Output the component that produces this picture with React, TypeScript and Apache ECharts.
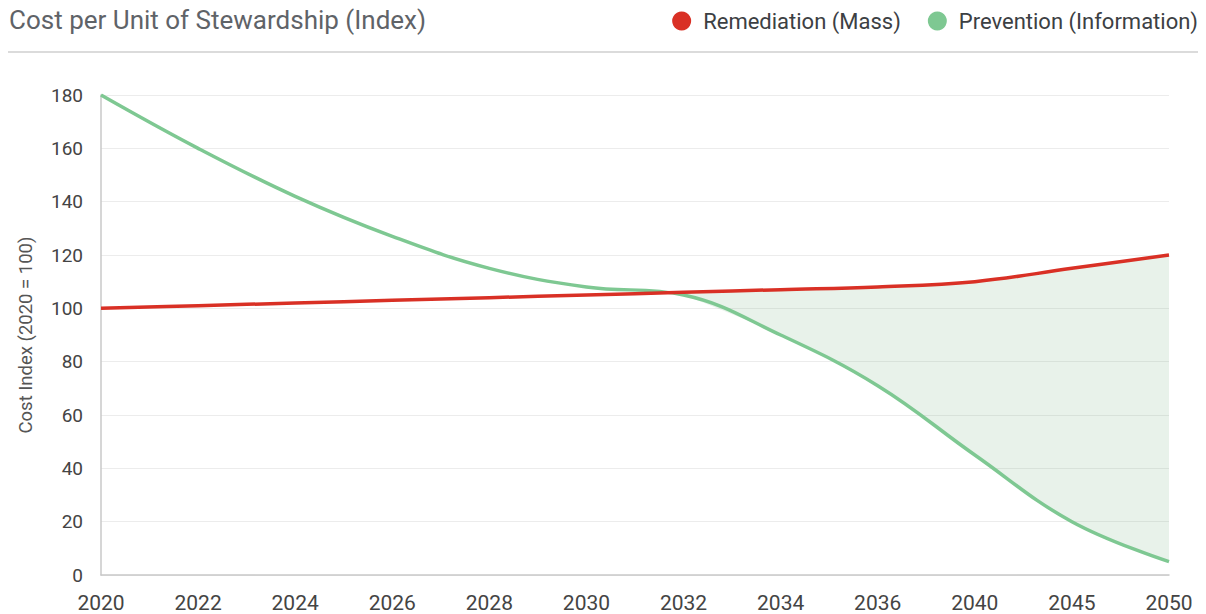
import React, { useEffect, useRef } from "react";
import * as echarts from "echarts";

const years = ["2020", "2022", "2024", "2026", "2028", "2030", "2032", "2034", "2036", "2040", "2045", "2050"];
const remediation = [100, 101, 102, 103, 104, 105, 106, 107, 108, 110, 115, 120];
const prevention = [180, 160, 142, 127, 115, 108, 105, 90, 71, 45, 20, 5];
const bandStart = 6;

const FONT = "Roboto, 'Noto Sans', sans-serif";

export default function App() {
  const ref = useRef<HTMLDivElement>(null);
  useEffect(() => {
    if (!ref.current) return;
    const chart = echarts.init(ref.current, undefined, { renderer: "svg" });
    const bandBase = prevention.map((v, i) => (i >= bandStart ? v : "-"));
    const bandDiff = prevention.map((v, i) => (i >= bandStart ? Math.max(0, remediation[i] - v) : "-"));
    chart.setOption({
      animation: false,
      textStyle: { fontFamily: FONT },
      title: {
        text: "Cost per Unit of Stewardship (Index)",
        left: 4,
        top: 2,
        textStyle: { fontSize: 26, fontWeight: "normal", color: "#5f6368", fontFamily: FONT },
      },
      legend: {
        right: 3,
        top: 5,
        data: ["Remediation (Mass)", "Prevention (Information)"],
        icon: "circle",
        itemWidth: 19,
        itemHeight: 19,
        itemGap: 27,
        textStyle: { fontSize: 22, color: "#3c4043", fontFamily: FONT, padding: [0, 0, 0, 7] },
      },
      graphic: [
        {
          type: "line",
          shape: { x1: 8, y1: 52, x2: 1198, y2: 52 },
          style: { stroke: "#cfcfcf", lineWidth: 1.5 },
        },
      ],
      grid: { left: 101, right: 37, top: 95, bottom: 39, containLabel: false },
      xAxis: {
        type: "category",
        data: years,
        boundaryGap: false,
        axisLine: { show: true, lineStyle: { color: "#c8c8c8", width: 1.5 } },
        axisTick: { show: false },
        axisLabel: { fontSize: 21, color: "#444", margin: 17, fontFamily: FONT },
        splitLine: { show: false },
      },
      yAxis: {
        type: "value",
        min: 0,
        max: 180,
        interval: 20,
        name: "Cost Index (2020 = 100)",
        nameLocation: "middle",
        nameGap: 66,
        nameTextStyle: { fontSize: 18.5, color: "#555", fontFamily: FONT },
        axisLine: { show: true, lineStyle: { color: "#c8c8c8", width: 1.5 } },
        axisTick: { show: false },
        axisLabel: { fontSize: 19, color: "#444", margin: 18, fontFamily: FONT },
        splitLine: { show: true, lineStyle: { color: "#ececec", width: 1 } },
      },
      series: [
        {
          name: "bandBase",
          type: "line",
          stack: "band",
          data: bandBase,
          smooth: 0.4,
          symbol: "none",
          silent: true,
          lineStyle: { opacity: 0 },
          z: 1,
        },
        {
          name: "bandDiff",
          type: "line",
          stack: "band",
          data: bandDiff,
          smooth: 0.4,
          symbol: "none",
          silent: true,
          lineStyle: { opacity: 0 },
          areaStyle: { color: "rgba(120, 180, 130, 0.24)" },
          z: 1,
        },
        {
          name: "Remediation (Mass)",
          type: "line",
          data: remediation,
          smooth: 0.4,
          symbol: "none",
          color: "#d93025",
          lineStyle: { width: 3.5, color: "#d93025" },
          z: 3,
        },
        {
          name: "Prevention (Information)",
          type: "line",
          data: prevention,
          smooth: 0.4,
          symbol: "none",
          color: "#7ec892",
          lineStyle: { width: 3.5, color: "#7ec892" },
          z: 2,
        },
      ],
    });
    return () => chart.dispose();
  }, []);
  return (
    <div
      ref={ref}
      style={{ position: "absolute", left: 0, top: 0, width: 1206, height: 614, background: "#fff" }}
    />
  );
}
